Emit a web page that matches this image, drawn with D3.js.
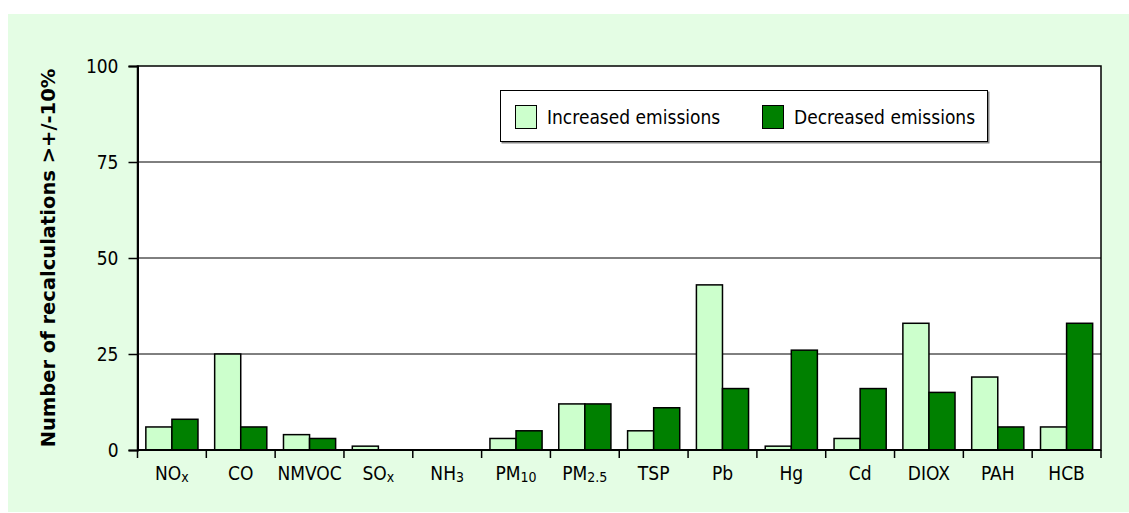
<!DOCTYPE html>
<html>
<head>
<meta charset="utf-8">
<script src="https://cdn.jsdelivr.net/npm/d3@7"></script>
<style>
  html, body { margin: 0; padding: 0; background: #ffffff; }
  svg { display: block; }
  text { font-family: "DejaVu Sans Condensed", "DejaVu Sans", sans-serif; font-stretch: condensed; fill: #000; }
</style>
</head>
<body>
<svg id="chart" width="1129" height="513"></svg>
<script>
// ---- data ----
const categories = ["NOx", "CO", "NMVOC", "SOx", "NH3", "PM10", "PM2.5", "TSP", "Pb", "Hg", "Cd", "DIOX", "PAH", "HCB"];
const labelMain  = ["NO", "CO", "NMVOC", "SO", "NH", "PM", "PM", "TSP", "Pb", "Hg", "Cd", "DIOX", "PAH", "HCB"];
const labelSub   = ["x", "", "", "x", "3", "10", "2.5", "", "", "", "", "", "", ""];
const seriesNames = ["Increased emissions", "Decreased emissions"];
const increased = [6, 25, 4, 1, 0, 3, 12, 5, 43, 1, 3, 33, 19, 6];
const decreased = [8, 6, 3, 0, 0, 5, 12, 11, 16, 26, 16, 15, 6, 33];
const yTicks = [0, 25, 50, 75, 100];
const yTitle = "Number of recalculations >+/-10%";

// ---- layout ----
const svg = d3.select("#chart");
const L = 137.5, R = 1101, T = 66, B = 450;
const colors = ["#ccffcc", "#008000"];

svg.append("rect").attr("x", 8).attr("y", 14).attr("width", 1121).attr("height", 498).attr("fill", "#e4fde4");

const x = d3.scaleBand().domain(categories).range([L, R]).paddingInner(0).paddingOuter(0);
const xs = d3.scaleBand().domain(seriesNames).range([0, x.bandwidth()]).paddingInner(0).paddingOuter(0.32);
const y = d3.scaleLinear().domain([0, 100]).range([B, T]);

// plot area
svg.append("rect").attr("x", L).attr("y", T).attr("width", R - L).attr("height", B - T)
  .attr("fill", "#ffffff").attr("stroke", "#000").attr("stroke-width", 1.5);

// gridlines
svg.append("g").selectAll("line").data(yTicks.filter(d => d > 0 && d < 100)).join("line")
  .attr("x1", L).attr("x2", R).attr("y1", d => y(d)).attr("y2", d => y(d))
  .attr("stroke", "#000").attr("stroke-width", 1);

// bars
const rows = categories.map((c, i) => ({ c, vals: [increased[i], decreased[i]] }));
const g = svg.append("g");
rows.forEach(r => {
  r.vals.forEach((v, k) => {
    if (v <= 0) return;
    g.append("rect")
      .attr("x", x(r.c) + xs(seriesNames[k]))
      .attr("y", y(v))
      .attr("width", xs.bandwidth())
      .attr("height", y(0) - y(v))
      .attr("fill", colors[k]).attr("stroke", "#000").attr("stroke-width", 1.5);
  });
});

// y axis
const yAxis = svg.append("g").attr("transform", `translate(${L},0)`)
  .call(d3.axisLeft(y).tickValues(yTicks).tickSize(9).tickPadding(10));
yAxis.select(".domain").attr("stroke", "#000").attr("stroke-width", 2);
yAxis.selectAll(".tick line").attr("stroke", "#000").attr("stroke-width", 1.5);
yAxis.selectAll(".tick text").attr("font-size", 19).attr("font-family", null).attr("dy", "0.36em");

// x axis baseline
svg.append("line").attr("x1", L).attr("x2", R).attr("y1", B).attr("y2", B).attr("stroke", "#000").attr("stroke-width", 2);
// category boundary ticks
const bounds = categories.map(c => x(c)).concat([x.range()[1]]);
svg.append("g").selectAll("line").data(bounds).join("line")
  .attr("x1", d => d).attr("x2", d => d).attr("y1", B).attr("y2", B + 8)
  .attr("stroke", "#000").attr("stroke-width", 1.5);

// x labels
const xl = svg.append("g").selectAll("text").data(categories).join("text")
  .attr("x", d => x(d) + x.bandwidth() / 2).attr("y", 480)
  .attr("text-anchor", "middle").attr("font-size", 19);
xl.each(function(d, i) {
  const t = d3.select(this);
  t.append("tspan").text(labelMain[i]);
  if (labelSub[i]) t.append("tspan").attr("font-size", 14).attr("dy", 2).text(labelSub[i]);
});

// y title
svg.append("text").attr("transform", `translate(55,${(T + B) / 2}) rotate(-90)`)
  .attr("text-anchor", "middle").attr("font-size", 19.5).attr("font-weight", "bold")
  .style("font-family", '"DejaVu Sans", sans-serif').style("font-stretch", "normal").text(yTitle);

// legend
const lg = svg.append("g");
lg.append("rect").attr("x", 501.5).attr("y", 91.5).attr("width", 488).attr("height", 52).attr("fill", "#888");
lg.append("rect").attr("x", 500.5).attr("y", 90.5).attr("width", 487).attr("height", 51)
  .attr("fill", "#fff").attr("stroke", "#000").attr("stroke-width", 1);
const lx = [515, 762];
seriesNames.forEach((s, k) => {
  lg.append("rect").attr("x", lx[k] + 0.5).attr("y", 105.5).attr("width", 21).attr("height", 23)
    .attr("fill", colors[k]).attr("stroke", "#000").attr("stroke-width", 1);
  lg.append("text").attr("x", lx[k] + 32).attr("y", 124).attr("font-size", 19).text(s);
});
</script>
</body>
</html>
